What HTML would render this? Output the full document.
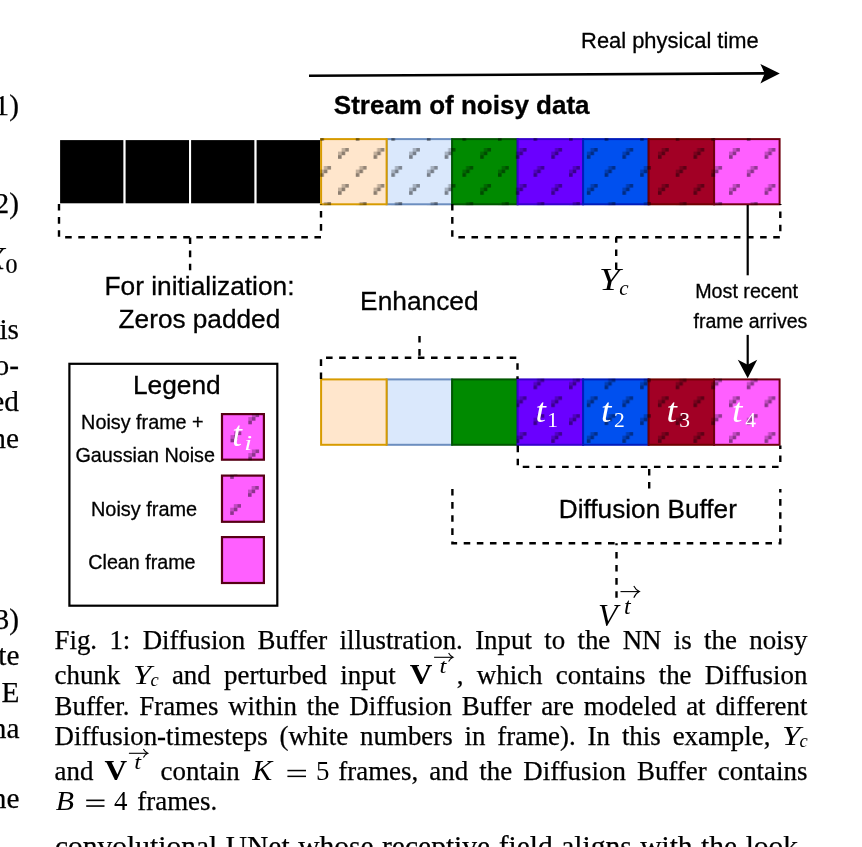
<!DOCTYPE html>
<html><head><meta charset="utf-8">
<style>
html,body{margin:0;padding:0;background:#fff;}
body{width:862px;height:847px;position:relative;overflow:hidden;}
#wrap{position:absolute;left:0;top:0;width:862px;height:847px;will-change:transform;}
svg{position:absolute;left:0;top:0;}
.ln{-webkit-text-stroke:0.25px #000;position:absolute;left:54.5px;width:753px;display:flex;justify-content:space-between;align-items:baseline;font-family:"Liberation Serif",serif;font-size:26.9px;line-height:30px;color:#000;white-space:nowrap;}
.ln.nj{justify-content:flex-start;}
svg.m{position:static;overflow:visible;font-family:"Liberation Serif";-webkit-text-stroke:0;}
svg.m text{stroke:none;}
</style></head>
<body>
<div id="wrap">
<svg width="862" height="847" viewBox="0 0 862 847">
<defs>
  <g id="mk">
    <rect x="3.6" y="0" width="3.6" height="3.6" fill="#000" fill-opacity="0.24"/>
    <rect x="7.2" y="0" width="3.6" height="3.6" fill="#000" fill-opacity="0.42"/>
    <rect x="0" y="3.6" width="3.6" height="3.6" fill="#000" fill-opacity="0.24"/>
    <rect x="3.6" y="3.6" width="3.6" height="3.6" fill="#000" fill-opacity="0.45"/>
    <rect x="0" y="7.2" width="3.6" height="3.6" fill="#000" fill-opacity="0.45"/>
  </g>
  <pattern id="pat1" patternUnits="userSpaceOnUse" x="338" y="148" width="35.55" height="36">
    <use href="#mk" x="0" y="0"/>
    <use href="#mk" x="17.78" y="18"/>
    <use href="#mk" x="-17.78" y="18"/>
    <use href="#mk" x="17.78" y="-18"/>
    <use href="#mk" x="-17.78" y="-18"/>
  </pattern>
  <pattern id="pat2" patternUnits="userSpaceOnUse" x="729" y="396.3" width="35.55" height="35.8">
    <use href="#mk" x="0" y="0"/>
    <use href="#mk" x="17.78" y="17.9"/>
    <use href="#mk" x="-17.78" y="17.9"/>
    <use href="#mk" x="17.78" y="-17.9"/>
    <use href="#mk" x="-17.78" y="-17.9"/>
  </pattern>
</defs>

<!-- left column fragments -->
<g font-family="Liberation Serif" font-size="29.3" fill="#000" stroke="#000" stroke-width="0.25" text-anchor="end">
  <text x="19" y="114.5">1)</text>
  <text x="19" y="213.1">2)</text>
  <text x="-14.6" y="269" font-style="italic" font-size="32" text-anchor="start">X</text>
  <text transform="translate(5.6,273.4) scale(1.1,1)" font-size="21.8" text-anchor="start">0</text>
  <text x="19" y="339.3">is</text>
  <text x="19" y="374.8">o-</text>
  <text x="19" y="411.2">ed</text>
  <text x="19" y="447.6">ne</text>
  <text x="19" y="629.3">3)</text>
  <text x="19.5" y="664.8">te</text>
  <text x="19.5" y="702.1">E</text>
  <text x="19.5" y="737.6">na</text>
  <text x="19.5" y="807.8">ne</text>
</g>

<!-- top arrow -->
<path d="M309,75.7 L765,73.4" stroke="#000" stroke-width="2.6" fill="none"/>
<path d="M779.8,73.4 L760.4,64 L764.7,73.4 L760.4,83.4 Z" fill="#000"/>

<g font-family="Liberation Sans" fill="#000" stroke="#000" stroke-width="0.3">
  <text x="581.1" y="47.8" font-size="21.9">Real physical time</text>
  <text x="333.8" y="114.3" font-size="26" font-weight="bold">Stream of noisy data</text>
  <text x="104.5" y="294.8" font-size="26.3">For initialization:</text>
  <text x="118.6" y="327.9" font-size="26.2">Zeros padded</text>
  <text x="360.1" y="310.3" font-size="26.3">Enhanced</text>
  <text x="695.2" y="297.9" font-size="19.7">Most recent</text>
  <text x="693.5" y="327.6" font-size="19.5">frame arrives</text>
  <text x="558.8" y="517.6" font-size="26.2">Diffusion Buffer</text>
</g>

<!-- row 1 boxes -->
<g stroke-width="2">
  <rect x="59.1" y="139.1" width="65.5" height="65.2" fill="#000" stroke="#fff"/>
  <rect x="124.6" y="139.1" width="65.5" height="65.2" fill="#000" stroke="#fff"/>
  <rect x="190.1" y="139.1" width="65.5" height="65.2" fill="#000" stroke="#fff"/>
  <rect x="255.6" y="139.1" width="65.5" height="65.2" fill="#000" stroke="#fff"/>
  <rect x="386.6" y="139.1" width="65.5" height="65.2" fill="#dae8fc" stroke="#6c8ebf"/>
  <rect x="321.1" y="139.1" width="65.5" height="65.2" fill="#ffe6cc" stroke="#d79b00"/>
  <rect x="452.1" y="139.1" width="65.5" height="65.2" fill="#008a00" stroke="#005700"/>
  <rect x="517.6" y="139.1" width="65.5" height="65.2" fill="#6a00ff" stroke="#3700cc"/>
  <rect x="583.1" y="139.1" width="65.5" height="65.2" fill="#0050ef" stroke="#001dbc"/>
  <rect x="648.6" y="139.1" width="65.5" height="65.2" fill="#a20025" stroke="#6f0000"/>
  <rect x="714.1" y="139.1" width="65.5" height="65.2" fill="#ff5fff" stroke="#6f0010"/>
</g>
<rect x="320.1" y="138.1" width="460.5" height="67.2" fill="url(#pat1)"/>

<!-- row 2 boxes -->
<g stroke-width="2">
  <rect x="386.6" y="379.4" width="65.5" height="65.4" fill="#dae8fc" stroke="#6c8ebf"/>
  <rect x="321.1" y="379.4" width="65.5" height="65.4" fill="#ffe6cc" stroke="#d79b00"/>
  <rect x="452.1" y="379.4" width="65.5" height="65.4" fill="#008a00" stroke="#005700"/>
  <rect x="517.6" y="379.4" width="65.5" height="65.4" fill="#6a00ff" stroke="#3700cc"/>
  <rect x="583.1" y="379.4" width="65.5" height="65.4" fill="#0050ef" stroke="#001dbc"/>
  <rect x="648.6" y="379.4" width="65.5" height="65.4" fill="#a20025" stroke="#6f0000"/>
  <rect x="714.1" y="379.4" width="65.5" height="65.4" fill="#ff5fff" stroke="#6f0010"/>
</g>
<rect x="516.6" y="378.4" width="264" height="67.4" fill="url(#pat2)"/>

<!-- t labels -->
<g font-family="Liberation Serif" fill="#fff">
  <text transform="translate(535.4,421.8) scale(1.1,1)" font-size="34" font-style="italic">t</text>
  <text x="547.3" y="427" font-size="21.5">1</text>
  <text transform="translate(600.9,421.8) scale(1.1,1)" font-size="34" font-style="italic">t</text>
  <text x="613.9" y="427" font-size="21.5">2</text>
  <text transform="translate(666.4,421.8) scale(1.1,1)" font-size="34" font-style="italic">t</text>
  <text x="679.2" y="427" font-size="21.5">3</text>
  <text transform="translate(731.9,421.8) scale(1.1,1)" font-size="34" font-style="italic">t</text>
  <text x="745.3" y="427" font-size="21.5">4</text>
</g>

<!-- dashed brackets -->
<g stroke="#000" stroke-width="2.4" fill="none" stroke-dasharray="6.56 6.56">
  <path d="M59,204 V237.2 H321 V204"/>
  <path d="M190.1,270.3 V237.2"/>
  <path d="M452.3,204 V237.3 H780.3 V204"/>
  <path d="M616.2,269.1 V237.3"/>
  <path d="M321,379 V357.8 H517.5 V379"/>
  <path d="M419.5,336 V357.8"/>
  <path d="M517.8,445.6 V466.9 H780.3 V445.6"/>
  <path d="M649.2,488.6 V466.9"/>
  <path d="M452.4,489 V543.3 H780.3 V489"/>
  <path d="M616.5,597.8 V543.3"/>
</g>

<!-- most recent arrow -->
<path d="M747.7,205 V275.3" stroke="#000" stroke-width="2.2" fill="none"/>
<path d="M747.7,334.9 V366" stroke="#000" stroke-width="2.2" fill="none"/>
<path d="M747.7,378.2 L737.8,359.7 L747.7,364.7 L757.2,359.7 Z" fill="#000"/>

<!-- Y_c -->
<g font-family="Liberation Serif" fill="#000" font-style="italic">
  <text transform="translate(599,289.9) scale(1.17,1)" font-size="32">Y</text>
  <text x="619.3" y="295" font-size="21">c</text>
  <text x="598" y="626" font-size="32">V</text>
  <text x="624" y="613.5" font-size="24">t</text>
</g>
<path d="M620.5,591.6 H638.5" stroke="#000" stroke-width="1.1"/>
<path d="M633.8,586 Q635.8,590 639.4,591.6 Q635.8,593.2 633.8,597.7" stroke="#000" stroke-width="1.1" fill="none"/>

<!-- legend -->
<rect x="69.4" y="363.8" width="207.9" height="241.9" fill="none" stroke="#000" stroke-width="2.2"/>
<g font-family="Liberation Sans" fill="#000" stroke="#000" stroke-width="0.3">
  <text x="132.9" y="393.7" font-size="26.3">Legend</text>
  <text x="81.1" y="429.2" font-size="19.8">Noisy frame +</text>
  <text x="75.5" y="461.7" font-size="19.75">Gaussian Noise</text>
  <text x="91" y="516" font-size="19.9">Noisy frame</text>
  <text x="88.3" y="568.6" font-size="19.7">Clean frame</text>
</g>
<g stroke="#560014" stroke-width="2.2" fill="#ff5fff">
  <rect x="222" y="414.1" width="41.9" height="45.6"/>
  <rect x="222" y="475.6" width="41.9" height="46.2"/>
  <rect x="222" y="537.1" width="41.9" height="45.9"/>
</g>
<clipPath id="cs1"><rect x="221" y="413.2" width="43.9" height="47.6"/></clipPath>
<clipPath id="cs2"><rect x="221" y="474.6" width="43.9" height="48.2"/></clipPath>
<g clip-path="url(#cs1)">
<use href="#mk" x="248.3" y="413.5"/>
<use href="#mk" x="230.5" y="431.5"/>
<use href="#mk" x="248.3" y="449.5"/>
</g>
<g clip-path="url(#cs2)">
<use href="#mk" x="248" y="486"/>
<use href="#mk" x="230.2" y="504.1"/>
<use href="#mk" x="230.2" y="468.1"/>
</g>
<g font-family="Liberation Serif" fill="#fff" font-style="italic">
  <text x="232.2" y="446" font-size="35">t</text>
  <text transform="translate(244.2,450) scale(1.4,1)" font-size="20">i</text>
</g>
</svg>

<div class="ln" style="top:625.4px"><span>Fig.</span><span>1:</span><span>Diffusion</span><span>Buffer</span><span>illustration.</span><span>Input</span><span>to</span><span>the</span><span>NN</span><span>is</span><span>the</span><span>noisy</span></div>
<div class="ln" style="top:660.4px"><span>chunk</span><svg class="m" width="25.2" height="1"><text transform="translate(0,1) scale(1.2,1)" font-style="italic" font-size="27.7">Y</text><text x="17.4" y="3.4" font-style="italic" font-size="18.5">c</text></svg><span>and</span><span>perturbed</span><span>input</span><span style="display:flex;align-items:baseline"><svg class="m" width="44" height="1" style="margin-left:1.5px"><text transform="translate(-0.3,1) scale(1.1,1)" font-weight="bold" font-size="28.5">V</text><text transform="translate(29.5,-10.2) scale(1.2,1)" font-style="italic" font-size="20.5">t</text><path d="M24.1,-25.7 H42.3" stroke="#000" stroke-width="1.1"/><path d="M38.6,-29.9 Q40.2,-26.9 43,-25.7 Q40.2,-24.5 38.6,-21.6" stroke="#000" stroke-width="1.1" fill="none"/></svg><span style="margin-left:2.4px">,</span></span><span>which</span><span>contains</span><span>the</span><span>Diffusion</span></div>
<div class="ln" style="top:690.8px"><span>Buffer.</span><span>Frames</span><span>within</span><span>the</span><span>Diffusion</span><span>Buffer</span><span>are</span><span>modeled</span><span>at</span><span>different</span></div>
<div class="ln" style="top:720.8px"><span>Diffusion-timesteps</span><span>(white</span><span>numbers</span><span>in</span><span>frame).</span><span>In</span><span>this</span><span>example,</span><svg class="m" width="25.2" height="1"><text transform="translate(0,1) scale(1.2,1)" font-style="italic" font-size="27.7">Y</text><text x="17.4" y="3.4" font-style="italic" font-size="18.5">c</text></svg></div>
<div class="ln" style="top:755.5px"><span>and</span><svg class="m" width="45" height="1"><g transform="translate(0.8,0)"><text transform="translate(-0.3,1) scale(1.1,1)" font-weight="bold" font-size="28.5">V</text><text transform="translate(29.5,-10.2) scale(1.2,1)" font-style="italic" font-size="20.5">t</text><path d="M24.1,-25.7 H42.3" stroke="#000" stroke-width="1.1"/><path d="M38.6,-29.9 Q40.2,-26.9 43,-25.7 Q40.2,-24.5 38.6,-21.6" stroke="#000" stroke-width="1.1" fill="none"/></g></svg><span>contain</span><svg class="m" width="76.3" height="1"><g transform="translate(1,0)"><text transform="translate(0.3,1) scale(1.05,1)" font-style="italic" font-size="28.5">K</text><rect x="35.4" y="-9.2" width="18.6" height="1.5"/><rect x="35.4" y="-3.4" width="18.6" height="1.5"/><text x="64" y="1" font-size="26.9">5</text></g></svg><span>frames,</span><span>and</span><span>the</span><span>Diffusion</span><span>Buffer</span><span>contains</span></div>
<div class="ln nj" style="top:785.6px;left:56.3px"><svg class="m" width="71" height="1" style="margin-right:10px"><text transform="translate(-0.3,1) scale(1.06,1)" font-style="italic" font-size="28.2">B</text><rect x="30.2" y="-9.45" width="18.3" height="1.6"/><rect x="30.2" y="-3.75" width="18.3" height="1.6"/><text x="57.9" y="1" font-size="26.9">4</text></svg><span>frames.</span></div>
<div class="ln" style="top:830.5px;font-size:29.5px;left:55px;width:753px"><span>convolutional</span><span>UNet</span><span>whose</span><span>receptive</span><span>field</span><span>aligns</span><span>with</span><span>the</span><span>look-</span></div>
</div>
</body></html>
